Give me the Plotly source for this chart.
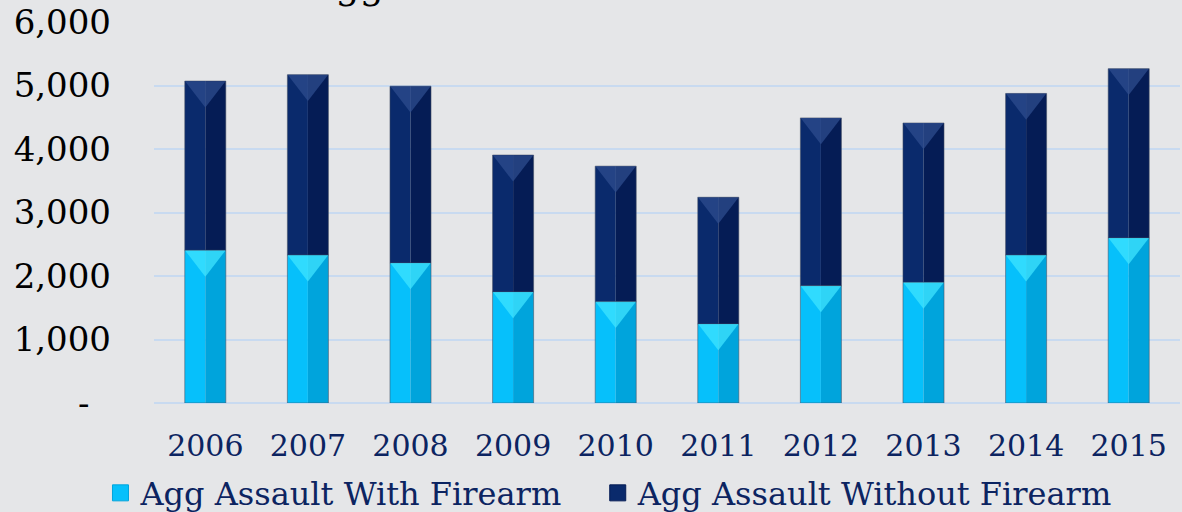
import plotly.graph_objects as go

years = ["2006", "2007", "2008", "2009", "2010", "2011", "2012", "2013", "2014", "2015"]
with_firearm = [2405, 2330, 2205, 1750, 1595, 1245, 1845, 1900, 2330, 2600]
without_firearm = [2665, 2840, 2785, 2155, 2135, 1995, 2645, 2510, 2545, 2665]
series_names = ["Agg Assault With Firearm\u00a0\u00a0\u00a0", "Agg Assault Without Firearm"]
y_tickvals = [0, 1000, 2000, 3000, 4000, 5000, 6000]
y_ticktext = ["-\u00a0\u00a0", "1,000", "2,000", "3,000", "4,000", "5,000", "6,000"]
title_text = "Agg Assaults"

FONT = "DejaVu Serif"
NAVY_TXT = "#0c2461"
BG = "#e5e6e8"
GRID = "#c8daf0"

cyan_l, cyan_r, cyan_top = "#06c0fb", "#00a4dc", "#3fe4ff"
navy_l, navy_r, navy_top = "#0a2a6c", "#051c55", "#2d4c8e"
edge = "rgba(70,80,100,0.55)"

fig = go.Figure()

bases = [[0] * len(years), with_firearm]
values = [with_firearm, without_firearm]
colors = [(cyan_l, cyan_r, cyan_top), (navy_l, navy_r, navy_top)]

bevel_depth = 140  # data units the bevel sits below each segment top

for vals, base, (cl, cr, ct) in zip(values, bases, colors):
    # left half (lighter) and right half (darker) to mimic the bevel
    fig.add_trace(go.Bar(x=years, y=vals, base=base, width=0.2, offset=-0.2,
                         marker=dict(color=cl, line=dict(width=0)),
                         showlegend=False, hoverinfo="skip"))
    fig.add_trace(go.Bar(x=years, y=vals, base=base, width=0.2, offset=0.0,
                         marker=dict(color=cr, line=dict(width=0)),
                         showlegend=False, hoverinfo="skip"))
    # top bevel chevron
    tops = [b + v - bevel_depth for b, v in zip(base, vals)]
    fig.add_trace(go.Scatter(x=years, y=tops, mode="markers",
                             marker=dict(symbol="triangle-down", size=35, color=ct,
                                         opacity=0.75, line=dict(width=0)),
                             showlegend=False, hoverinfo="skip"))
    # outline over whole segment
    fig.add_trace(go.Bar(x=years, y=vals, base=base, width=0.4,
                         marker=dict(color="rgba(0,0,0,0)", line=dict(width=1, color=edge)),
                         showlegend=False, hoverinfo="skip"))

# legend entries
for name, (cl, cr, ct) in zip(series_names, colors):
    fig.add_trace(go.Scatter(x=[None], y=[None], mode="markers", name=name,
                             marker=dict(symbol="square", size=16, color=cl,
                                         line=dict(width=1, color=cr))))

fig.update_layout(
    width=1182, height=512,
    barmode="overlay",
    paper_bgcolor=BG, plot_bgcolor=BG,
    margin=dict(l=154, r=2, t=22, b=109, autoexpand=False),
    font=dict(family=FONT, color=NAVY_TXT),
    showlegend=True,
    legend=dict(orientation="h", xref="container", x=0.085, xanchor="left",
                yref="container", y=0.037, yanchor="middle",
                font=dict(size=32, color=NAVY_TXT, family=FONT),
                bgcolor="rgba(0,0,0,0)", itemwidth=30,
                tracegroupgap=0),
    xaxis=dict(type="category", showgrid=False, zeroline=False, showline=False,
               ticks="", tickfont=dict(size=30, color=NAVY_TXT, family=FONT),
               ticklabelstandoff=22, range=[-0.5, 9.5]),
    yaxis=dict(range=[0, 6000], tickvals=y_tickvals, ticktext=y_ticktext,
               showgrid=True, gridcolor=GRID, gridwidth=2,
               zeroline=True, zerolinecolor=GRID, zerolinewidth=2,
               showline=False, ticks="",
               tickfont=dict(size=34, color="#000000", family=FONT),
               ticklabelstandoff=42),
    annotations=[dict(text=title_text, xref="paper", yref="paper",
                      x=0.147, y=1.035, xanchor="left", yanchor="bottom",
                      showarrow=False, font=dict(size=38, color="#000000", family=FONT))],
)

fig.write_html("out.html", config={"displayModeBar": False},
               post_script="document.body.style.margin='0';")
